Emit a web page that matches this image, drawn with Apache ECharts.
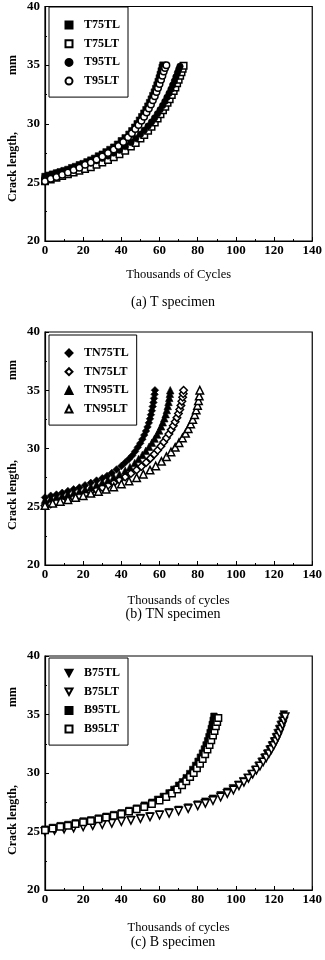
<!DOCTYPE html>
<html>
<head>
<meta charset="utf-8">
<script src="https://cdn.jsdelivr.net/npm/echarts@6/dist/echarts.min.js"></script>
<style>
  html, body { margin: 0; padding: 0; background: #fff; }
  #chart { width: 325px; height: 960px; }
</style>
</head>
<body>
<div id="chart"></div>
<script>
// axis ticks
var xTicks = [0, 20, 40, 60, 80, 100, 120, 140];
var yTicks = [20, 25, 30, 35, 40];

// (a) T specimen  [thousands of cycles, crack length mm]
var t75tl = [[0,25.5],[2,25.6],[4,25.7],[6,25.8],[8,25.9],[10,26.0],[12,26.1],[14,26.25],[16,26.35],[18,26.5],[20,26.6],[22,26.75],[24,26.9],[26,27.05],[28,27.25],[30,27.4],[32,27.6],[34,27.8],[36,28.0],[38,28.25],[40,28.55],[42,28.8],[44,29.1],[45.5,29.4],[47,29.7],[48.3,30.0],[49.5,30.3],[50.7,30.6],[51.8,30.9],[52.9,31.2],[53.9,31.5],[54.8,31.8],[55.7,32.1],[56.5,32.4],[57.3,32.7],[58,33.0],[58.7,33.3],[59.3,33.6],[59.9,33.9],[60.4,34.2],[60.9,34.5],[61.4,34.8],[61.8,35.0]];
var t75lt = [[0,25.1],[3,25.25],[6,25.4],[9,25.55],[12,25.7],[15,25.85],[18,26.0],[21,26.15],[24,26.3],[27,26.5],[30,26.7],[33,26.9],[36,27.15],[39,27.4],[42,27.7],[45,28.05],[47.5,28.35],[50,28.75],[52,29.05],[54,29.4],[55.8,29.75],[57.5,30.1],[59,30.45],[60.5,30.8],[61.8,31.15],[63,31.45],[64.2,31.8],[65.3,32.1],[66.4,32.45],[67.4,32.8],[68.3,33.1],[69.2,33.45],[70,33.75],[70.8,34.1],[71.5,34.4],[72.1,34.7],[72.6,34.95]];
var t95tl = [[0,25.5],[3,25.65],[6,25.8],[9,25.9],[12,26.05],[15,26.2],[18,26.35],[21,26.5],[24,26.65],[27,26.85],[30,27.05],[33,27.25],[36,27.5],[39,27.75],[42,28.05],[45,28.4],[47.5,28.75],[50,29.1],[52,29.45],[54,29.8],[55.8,30.15],[57.4,30.5],[58.9,30.85],[60.3,31.2],[61.6,31.55],[62.8,31.9],[63.9,32.25],[65,32.6],[66,32.95],[66.9,33.3],[67.8,33.65],[68.6,34.0],[69.4,34.35],[70.1,34.65],[70.7,34.9]];
var t95lt = [[0,25.1],[3,25.3],[6,25.45],[9,25.65],[12,25.85],[15,26.05],[18,26.25],[21,26.5],[24,26.7],[27,26.95],[30,27.2],[33,27.5],[36,27.8],[38.5,28.1],[41,28.45],[43.5,28.85],[45.5,29.2],[47.3,29.55],[49,29.9],[50.5,30.25],[51.9,30.6],[53.2,30.95],[54.4,31.3],[55.5,31.65],[56.5,32.0],[57.5,32.35],[58.4,32.7],[59.2,33.05],[60,33.4],[60.8,33.75],[61.5,34.1],[62.2,34.45],[62.9,34.75],[63.6,35.0]];

// (b) TN specimen
var tn75tl = [[0,25.8],[3,25.95],[6,26.05],[9,26.2],[12,26.35],[15,26.5],[18,26.65],[21,26.85],[24,27.05],[27,27.25],[30,27.45],[32.5,27.65],[35,27.9],[37.5,28.2],[40,28.5],[42,28.8],[44,29.1],[45.7,29.4],[47.2,29.75],[48.6,30.1],[49.9,30.45],[51,30.8],[52,31.15],[52.9,31.5],[53.7,31.85],[54.4,32.2],[55,32.55],[55.5,32.9],[56,33.25],[56.4,33.6],[56.8,33.95],[57.1,34.3],[57.4,34.65],[57.6,35.0]];
var tn75lt = [[0,25.1],[3,25.25],[6,25.4],[9,25.5],[12,25.65],[15,25.8],[18,25.95],[21,26.1],[24,26.3],[27,26.45],[30,26.65],[33,26.85],[36,27.05],[39,27.3],[42,27.55],[45,27.85],[48,28.15],[50.5,28.45],[53,28.8],[55.2,29.15],[57.2,29.5],[59,29.85],[60.7,30.2],[62.2,30.55],[63.6,30.9],[64.9,31.25],[66.1,31.6],[67.2,31.95],[68.2,32.3],[69.1,32.65],[69.9,33.0],[70.6,33.35],[71.2,33.7],[71.7,34.05],[72.1,34.4],[72.4,34.7],[72.6,35.0]];
var tn95tl = [[0,25.6],[3,25.7],[6,25.85],[9,25.95],[12,26.1],[15,26.2],[18,26.35],[21,26.5],[24,26.7],[27,26.9],[30,27.1],[33,27.3],[36,27.55],[39,27.8],[42,28.1],[44.5,28.4],[47,28.75],[49,29.1],[51,29.45],[52.8,29.8],[54.5,30.15],[56,30.5],[57.4,30.85],[58.7,31.2],[59.8,31.55],[60.8,31.9],[61.7,32.25],[62.5,32.6],[63.2,32.95],[63.8,33.3],[64.3,33.65],[64.7,34.0],[65.1,34.35],[65.4,34.7],[65.6,35.0]];
var tn95lt = [[0,25.1],[4,25.3],[8,25.45],[12,25.6],[16,25.8],[20,25.95],[24,26.15],[28,26.3],[32,26.5],[36,26.7],[40,26.95],[44,27.2],[48,27.5],[51.5,27.8],[55,28.15],[58,28.5],[61,28.9],[63.6,29.3],[66,29.7],[68.2,30.1],[70.2,30.5],[72,30.9],[73.6,31.3],[75,31.7],[76.3,32.1],[77.4,32.5],[78.4,32.9],[79.2,33.3],[79.9,33.7],[80.4,34.1],[80.8,34.5],[81.1,35.0]];

// (c) B specimen
var b75tl = [[0,25.0],[5,25.15],[10,25.25],[15,25.35],[20,25.45],[25,25.55],[30,25.65],[35,25.8],[40,25.9],[45,26.0],[50,26.15],[55,26.3],[60,26.45],[65,26.65],[70,26.85],[75,27.05],[80,27.3],[84,27.55],[88,27.8],[92,28.1],[95.5,28.4],[98.5,28.7],[101.3,29.0],[103.8,29.3],[106,29.6],[108,29.9],[110,30.25],[111.8,30.6],[113.4,30.95],[114.9,31.3],[116.3,31.65],[117.6,32.0],[118.8,32.35],[119.9,32.7],[120.9,33.05],[121.8,33.4],[122.6,33.75],[123.4,34.1],[124.1,34.45],[124.7,34.8],[125.1,35.0]];
var b75lt = [[0,25.0],[5,25.1],[10,25.2],[15,25.3],[20,25.4],[25,25.5],[30,25.6],[35,25.7],[40,25.85],[45,25.95],[50,26.1],[55,26.25],[60,26.4],[65,26.55],[70,26.75],[75,26.95],[80,27.2],[84,27.4],[88,27.65],[92,27.95],[95.5,28.25],[98.7,28.55],[101.6,28.9],[104.2,29.2],[106.6,29.55],[108.8,29.9],[110.8,30.25],[112.6,30.6],[114.3,30.95],[115.9,31.3],[117.3,31.65],[118.6,32.0],[119.8,32.35],[120.9,32.7],[121.9,33.05],[122.8,33.4],[123.6,33.75],[124.4,34.1],[125.1,34.45],[125.8,34.8]];
var b95tl = [[0,25.2],[4,25.35],[8,25.5],[12,25.6],[16,25.75],[20,25.9],[24,26.0],[28,26.15],[32,26.3],[36,26.45],[40,26.6],[44,26.8],[48,27.0],[52,27.25],[56,27.5],[59,27.75],[62,28.0],[65,28.3],[67.5,28.6],[70,28.95],[72,29.25],[74,29.6],[75.8,29.95],[77.4,30.3],[78.9,30.65],[80.2,31.0],[81.4,31.35],[82.5,31.7],[83.5,32.05],[84.4,32.4],[85.2,32.75],[85.9,33.1],[86.5,33.45],[87.1,33.8],[87.6,34.15],[88.1,34.5],[88.5,34.85]];
var b95lt = [[0,25.1],[4,25.25],[8,25.4],[12,25.5],[16,25.65],[20,25.8],[24,25.9],[28,26.05],[32,26.2],[36,26.35],[40,26.5],[44,26.7],[48,26.9],[52,27.1],[56,27.35],[60,27.65],[63.5,27.95],[66.5,28.25],[69.3,28.6],[71.8,28.95],[74,29.3],[76,29.65],[77.9,30.0],[79.6,30.4],[81.2,30.8],[82.6,31.2],[83.9,31.6],[85.1,32.0],[86.2,32.4],[87.1,32.8],[88,33.2],[88.8,33.6],[89.5,34.0],[90.2,34.35],[90.8,34.7]];

var serif = "'Liberation Serif', 'DejaVu Serif', serif";
var downTri = "path://M0,0 L10,0 L5,9 Z";

var myChart = echarts.init(document.getElementById("chart"));

var panels = [
  { top: 6, height: 235, xName: "Thousands of Cycles", nameGap: 27, caption: "(a) T specimen", capY: 302, mmY: 65, crackY: 167, legTop: 7, legPad: 12,
    series: [
      { name: "T75TL", data: t75tl, symbol: "rect", open: false },
      { name: "T75LT", data: t75lt, symbol: "rect", open: true },
      { name: "T95TL", data: t95tl, symbol: "circle", open: false },
      { name: "T95LT", data: t95lt, symbol: "circle", open: true }
    ] },
  { top: 332, height: 233, xName: "Thousands of cycles", nameGap: 29, caption: "(b) TN specimen", capY: 614, mmY: 370, crackY: 495, legTop: 335, legPad: 12,
    series: [
      { name: "TN75TL", data: tn75tl, symbol: "diamond", open: false },
      { name: "TN75LT", data: tn75lt, symbol: "diamond", open: true },
      { name: "TN95TL", data: tn95tl, symbol: "triangle", open: false },
      { name: "TN95LT", data: tn95lt, symbol: "triangle", open: true }
    ] },
  { top: 656, height: 234, xName: "Thousands of cycles", nameGap: 31, caption: "(c) B specimen", capY: 942, mmY: 697, crackY: 820, legTop: 658, legPad: 9,
    series: [
      { name: "B75TL", data: b75tl, symbol: downTri, open: false },
      { name: "B75LT", data: b75lt, symbol: downTri, open: true },
      { name: "B95TL", data: b95tl, symbol: "rect", open: false },
      { name: "B95LT", data: b95lt, symbol: "rect", open: true }
    ] }
];

var grid = [], xAxis = [], yAxis = [], series = [], legend = [], graphic = [];

panels.forEach(function (p, i) {
  grid.push({
    left: 45, top: p.top, width: 270, height: p.height,
    show: true, borderColor: "#000", borderWidth: 1.2, backgroundColor: "transparent"
  });
  xAxis.push({
    gridIndex: i, type: "value", min: xTicks[0], max: xTicks[xTicks.length - 1], interval: 20,
    name: p.xName, nameLocation: "middle", nameGap: p.nameGap,
    nameTextStyle: { fontFamily: serif, fontSize: 12.5, color: "#000" },
    axisLine: { onZero: false, lineStyle: { color: "#000", width: 1.2 } },
    axisTick: { inside: true, length: 4, lineStyle: { color: "#000" } },
    minorTick: { show: true, splitNumber: 2, length: 2, lineStyle: { color: "#000" } },
    axisLabel: { margin: 3, fontFamily: serif, fontSize: 13, fontWeight: "bold", color: "#000" },
    splitLine: { show: false }
  });
  yAxis.push({
    gridIndex: i, type: "value", min: yTicks[0], max: yTicks[yTicks.length - 1], interval: 5,
    axisLine: { onZero: false, lineStyle: { color: "#000", width: 1.2 } },
    axisTick: { inside: true, length: 4, lineStyle: { color: "#000" } },
    minorTick: { show: true, splitNumber: 2, length: 2, lineStyle: { color: "#000" } },
    axisLabel: { margin: 5, fontFamily: serif, fontSize: 13, fontWeight: "bold", color: "#000" },
    splitLine: { show: false }
  });
  p.series.forEach(function (s) {
    series.push({
      name: s.name, type: "scatter", xAxisIndex: i, yAxisIndex: i,
      data: s.data, symbol: s.symbol,
      symbolSize: s.symbol === "circle" || s.symbol === "rect" ? 6.5 : 7.5,
      itemStyle: s.open
        ? { color: "#fff", borderColor: "#000", borderWidth: 1.5, opacity: 1 }
        : { color: "#000", borderColor: "#000", borderWidth: 0.6, opacity: 1 },
      emphasis: { disabled: true }
    });
  });
  legend.push({
    data: p.series.map(function (s) { return s.name; }),
    orient: "vertical", left: 49, top: p.legTop,
    padding: [p.legPad, 8, 10, 15.5],
    itemWidth: 7, itemHeight: 7, itemGap: 6.7,
    borderColor: "#000", borderWidth: 1, backgroundColor: "#fff",
    textStyle: { fontFamily: serif, fontSize: 12, fontWeight: "bold", color: "#000", lineHeight: 12, padding: [0, 0, 0, 6.5] },
    selectedMode: false
  });
  graphic.push({
    type: "text", x: 13, y: p.crackY, rotation: Math.PI / 2,
    style: { text: "Crack length,", fontFamily: serif, fontSize: 12, fontWeight: "bold", fill: "#000", align: "center", verticalAlign: "middle" }
  });
  graphic.push({
    type: "text", x: 13, y: p.mmY, rotation: Math.PI / 2,
    style: { text: "mm", fontFamily: serif, fontSize: 12, fontWeight: "bold", fill: "#000", align: "center", verticalAlign: "middle" }
  });
  graphic.push({
    type: "text", x: 173, y: p.capY,
    style: { text: p.caption, fontFamily: serif, fontSize: 14, fill: "#000", align: "center", verticalAlign: "middle" }
  });
});

var option = {
  animation: false,
  backgroundColor: "#fff",
  grid: grid,
  xAxis: xAxis,
  yAxis: yAxis,
  legend: legend,
  graphic: graphic,
  series: series
};

myChart.setOption(option);
</script>
</body>
</html>
